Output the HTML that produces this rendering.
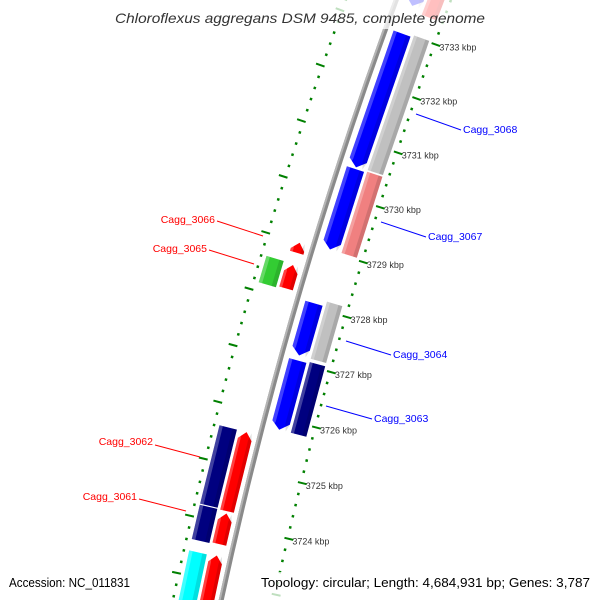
<!DOCTYPE html>
<html><head><meta charset="utf-8"><style>
html,body{margin:0;padding:0;background:#fff;width:600px;height:600px;overflow:hidden;}
svg{display:block;font-family:"Liberation Sans",sans-serif;}
</style></head><body>
<svg id="map" width="600" height="600" viewBox="0 0 600 600" xmlns="http://www.w3.org/2000/svg">
<g id="rulers"></g>
<circle cx="4550" cy="1537" r="4429" fill="none" stroke="#8a8a8a" stroke-width="5"/>
<circle cx="4550" cy="1537" r="4430.5" fill="none" stroke="#b4b4b4" stroke-width="2"/>
<g id="features"></g>
<g id="ticklabels"></g>
<g font-size="10.5">
<line x1="416" y1="114" x2="461" y2="130" stroke="#0000ff"/><text x="463" y="133" fill="#0000ff">Cagg_3068</text>
<line x1="381" y1="222" x2="426" y2="237" stroke="#0000ff"/><text x="428" y="240" fill="#0000ff">Cagg_3067</text>
<line x1="346" y1="341" x2="391" y2="355" stroke="#0000ff"/><text x="393" y="358" fill="#0000ff">Cagg_3064</text>
<line x1="326" y1="406" x2="372" y2="419" stroke="#0000ff"/><text x="374" y="422" fill="#0000ff">Cagg_3063</text>
<line x1="217" y1="221" x2="263" y2="236" stroke="#ff0000"/><text x="215" y="223" text-anchor="end" fill="#ff0000">Cagg_3066</text>
<line x1="209" y1="250" x2="254" y2="264" stroke="#ff0000"/><text x="207" y="252" text-anchor="end" fill="#ff0000">Cagg_3065</text>
<line x1="155" y1="445" x2="200" y2="457" stroke="#ff0000"/><text x="153" y="445" text-anchor="end" fill="#ff0000">Cagg_3062</text>
<line x1="139" y1="499" x2="186" y2="511" stroke="#ff0000"/><text x="137" y="500" text-anchor="end" fill="#ff0000">Cagg_3061</text>
</g>
<rect x="0" y="0" width="600" height="29" fill="#fff" opacity="0.75"/>
<text x="115" y="23" textLength="370" lengthAdjust="spacingAndGlyphs" font-size="14" font-style="italic" fill="#333">Chloroflexus aggregans DSM 9485, complete genome</text>
<rect x="256" y="572" width="340" height="28" fill="#fff" opacity="0.75"/>
<text x="9" y="587" textLength="121" lengthAdjust="spacingAndGlyphs" font-size="13" fill="#000">Accession: NC_011831</text>
<text x="261" y="587" textLength="329" lengthAdjust="spacingAndGlyphs" font-size="13" fill="#000">Topology: circular; Length: 4,684,931 bp; Genes: 3,787</text>
</svg>
<script>
// ---- data (kbp) ----
const featStart = [3733.49, 3730.53, 3729.04, 3727.13, 3725.80, 3733.40, 3730.55, 3729.04, 3727.13, 3725.80, 3728.82, 3728.18, 3724.22, 3723.64, 3721.50, 3728.15, 3724.24, 3723.62, 3721.50];
const featEnd   = [3735.50, 3732.98, 3730.50, 3728.07, 3727.04, 3735.50, 3733.02, 3730.52, 3728.16, 3727.07, 3729.00, 3728.60, 3725.62, 3724.18, 3723.44, 3728.62, 3725.62, 3724.22, 3723.42];
const featStrand= [-1,-1,-1,-1,-1, 0,0,0,0,0, 1,1,1,1,1, 0,0,0,0];
const featTrack = ['R1','R1','R1','R1','R1','R2','R2','R2','R2','R2','L1','L1','L1','L1','L1','L2','L2','L2','L2'];
const featColor = ['#0000ff','#0000ff','#0000ff','#0000ff','#0000ff','#ff0000','#c0c0c0','#f08080','#c0c0c0','#000080','#ff0000','#ff0000','#ff0000','#ff0000','#ff0000','#33cc33','#000080','#000080','#00ffff'];
const tickLabels = [3733,3732,3731,3730,3729,3728,3727,3726,3725,3724];

const NS='http://www.w3.org/2000/svg';
const CX=4550, CY=1537, R0=4429;
const trackR={R1:[-26,-8],R2:[-45,-29],L1:[7,21],L2:[24,42]};
function pt(k,r){const a=-2.7936-(3733-k)*0.01310;return [CX+r*Math.cos(a),CY+r*Math.sin(a)];}
function poly(pts,fill,op){const p=document.createElementNS(NS,'polygon');p.setAttribute('points',pts.map(q=>q[0].toFixed(1)+','+q[1].toFixed(1)).join(' '));p.setAttribute('fill',fill);if(op)p.setAttribute('fill-opacity',op);return p;}
function shape(s,e,st,r1,r2){
  const h=0.13, rm=(r1+r2)/2;
  if(st>0){const b=Math.max(s,e-h);return [pt(s,r1),pt(b,r1),pt(e,rm),pt(b,r2),pt(s,r2)];}
  if(st<0){const b=Math.min(e,s+h);return [pt(e,r1),pt(b,r1),pt(s,rm),pt(b,r2),pt(e,r2)];}
  return [pt(s,r1),pt(e,r1),pt(e,r2),pt(s,r2)];
}
const fg=document.getElementById('features');
for(let i=0;i<featStart.length;i++){
  const tr=trackR[featTrack[i]], r1=R0+tr[0], r2=R0+tr[1];
  const g=document.createElementNS(NS,'g');
  
  
  g.appendChild(poly(shape(featStart[i],featEnd[i],featStrand[i],r1,r2),featColor[i]));
  g.appendChild(poly(shape(featStart[i],featEnd[i],featStrand[i],r1,r1+(r2-r1)*0.25),'#000','0.12'));
  g.appendChild(poly(shape(featStart[i],featEnd[i],featStrand[i],r2-(r2-r1)*0.2,r2),'#fff','0.25'));
  fg.appendChild(g);
}
// rulers
const rg=document.getElementById('rulers');
function seg(k,ra,rb,w){const a=pt(k,ra),b=pt(k,rb);const l=document.createElementNS(NS,'line');l.setAttribute('x1',a[0]);l.setAttribute('y1',a[1]);l.setAttribute('x2',b[0]);l.setAttribute('y2',b[1]);l.setAttribute('stroke','#008000');l.setAttribute('stroke-width',w);return l;}
for(let j=0;j<=80;j++){
  const k=3720+j*0.2; const major=Math.abs(k-Math.round(k))<1e-6;
  const l1=major?seg(k,R0-48,R0-57,2):seg(k,R0-50,R0-52.5,2.5);
  
  
  rg.appendChild(l1);
  const l2=major?seg(k,R0+45,R0+54,2):seg(k,R0+46,R0+48.5,2.5);
  
  
  rg.appendChild(l2);
}
const tg=document.getElementById('ticklabels');
tickLabels.forEach(k=>{const p=pt(k,R0-52);const t=document.createElementNS(NS,'text');
  
  
  t.setAttribute('x',(p[0]+4).toFixed(1));t.setAttribute('y',(p[1]+6).toFixed(1));t.setAttribute('font-size','9');t.setAttribute('fill','#333');t.textContent=k+' kbp';tg.appendChild(t);});
</script>
</body></html>
